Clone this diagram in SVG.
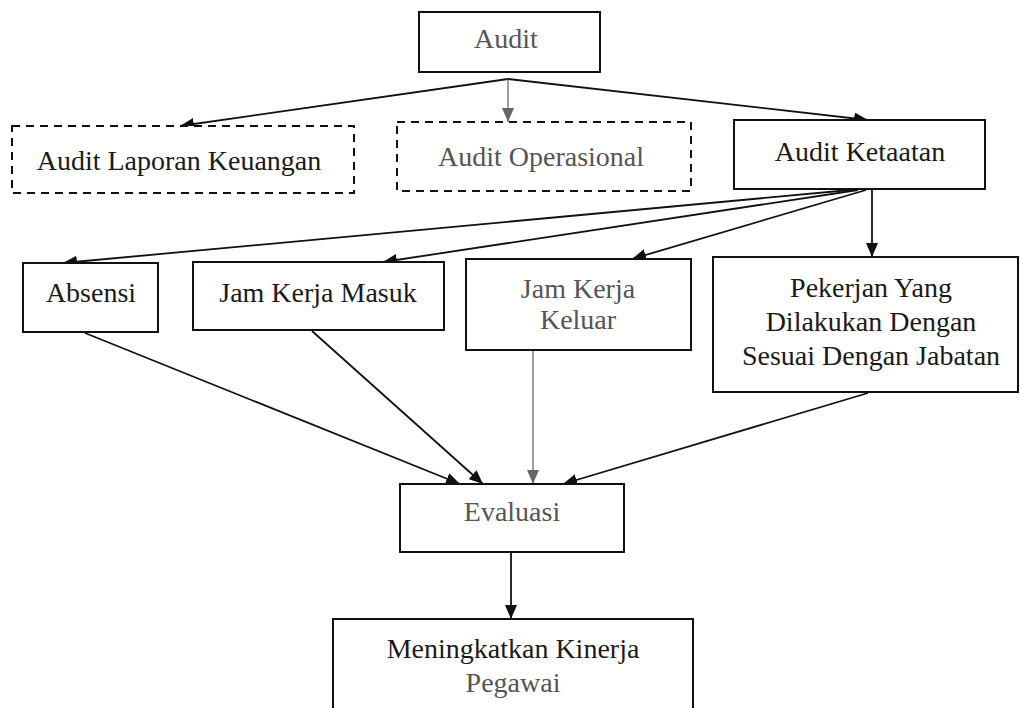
<svg xmlns="http://www.w3.org/2000/svg" width="1021" height="708" viewBox="0 0 1021 708">
<style>
.box{fill:#fff;stroke:#111;stroke-width:2}
.dash{fill:#fff;stroke:#111;stroke-width:2;stroke-dasharray:8 6}
text{font-family:'Liberation Serif','DejaVu Serif',serif;font-size:28px;fill:#1a1a1a;text-anchor:middle;dominant-baseline:central}
.lt{fill:#555}
.c{stroke:#111;stroke-width:1.8;fill:none;marker-end:url(#ah)}
.cg{stroke:#777;stroke-width:1.4;fill:none;marker-end:url(#ahg)}
</style>
<defs>
<marker id="ah" markerUnits="userSpaceOnUse" markerWidth="14" markerHeight="12" viewBox="0 0 14 12" refX="14" refY="6" orient="auto">
<path d="M0,0 L14,6 L0,12 Z" fill="#111"/>
</marker>
<marker id="ahg" markerUnits="userSpaceOnUse" markerWidth="14" markerHeight="12" viewBox="0 0 14 12" refX="14" refY="6" orient="auto">
<path d="M0,0 L14,6 L0,12 Z" fill="#666"/>
</marker>
</defs>
<rect width="1021" height="708" fill="#fff"/>
<g id="connectors">
<line class="c" x1="508" y1="79" x2="180" y2="126"/>
<line class="cg" x1="508" y1="79" x2="508" y2="122"/>
<line class="c" x1="508" y1="79" x2="868" y2="120"/>
<line class="c" x1="850" y1="190" x2="63" y2="263"/>
<line class="c" x1="858" y1="190" x2="383" y2="262"/>
<line class="c" x1="866" y1="190" x2="632" y2="259"/>
<line class="c" x1="872" y1="190" x2="872" y2="257"/>
<line class="c" x1="85" y1="333" x2="460" y2="484"/>
<line class="c" x1="312" y1="331" x2="483" y2="484"/>
<line class="cg" x1="533" y1="351" x2="533" y2="484"/>
<line class="c" x1="868" y1="393" x2="563" y2="484"/>
<line class="c" x1="511" y1="552" x2="511" y2="619"/>
</g>
<g id="audit">
<rect class="box" x="419" y="12" width="181" height="60"/>
<text class="lt" x="506" y="38">Audit</text>
</g>
<g id="audit-laporan">
<rect class="dash" x="12" y="126" width="342" height="67"/>
<text x="179" y="160">Audit Laporan Keuangan</text>
</g>
<g id="audit-operasional">
<rect class="dash" x="397" y="122" width="294" height="69"/>
<text class="lt" x="541" y="156">Audit Operasional</text>
</g>
<g id="audit-ketaatan">
<rect class="box" x="734" y="120" width="251" height="69"/>
<text x="860" y="151">Audit Ketaatan</text>
</g>
<g id="absensi">
<rect class="box" x="23" y="263" width="135" height="69"/>
<text x="91" y="292">Absensi</text>
</g>
<g id="jam-masuk">
<rect class="box" x="193" y="262" width="251" height="68"/>
<text x="318" y="292">Jam Kerja Masuk</text>
</g>
<g id="jam-keluar">
<rect class="box" x="466" y="259" width="225" height="91"/>
<text class="lt" x="578" y="288">Jam Kerja</text>
<text class="lt" x="578" y="319">Keluar</text>
</g>
<g id="pekerjan">
<rect class="box" x="713" y="257" width="305" height="135"/>
<text x="871" y="287">Pekerjan Yang</text>
<text x="871" y="321">Dilakukan Dengan</text>
<text x="871" y="355">Sesuai Dengan Jabatan</text>
</g>
<g id="evaluasi">
<rect class="box" x="400" y="484" width="224" height="68"/>
<text class="lt" x="512" y="511">Evaluasi</text>
</g>
<g id="meningkatkan">
<rect class="box" x="333" y="619" width="360" height="100"/>
<text x="513" y="648">Meningkatkan Kinerja</text>
<text class="lt" x="513" y="682">Pegawai</text>
</g>
</svg>
